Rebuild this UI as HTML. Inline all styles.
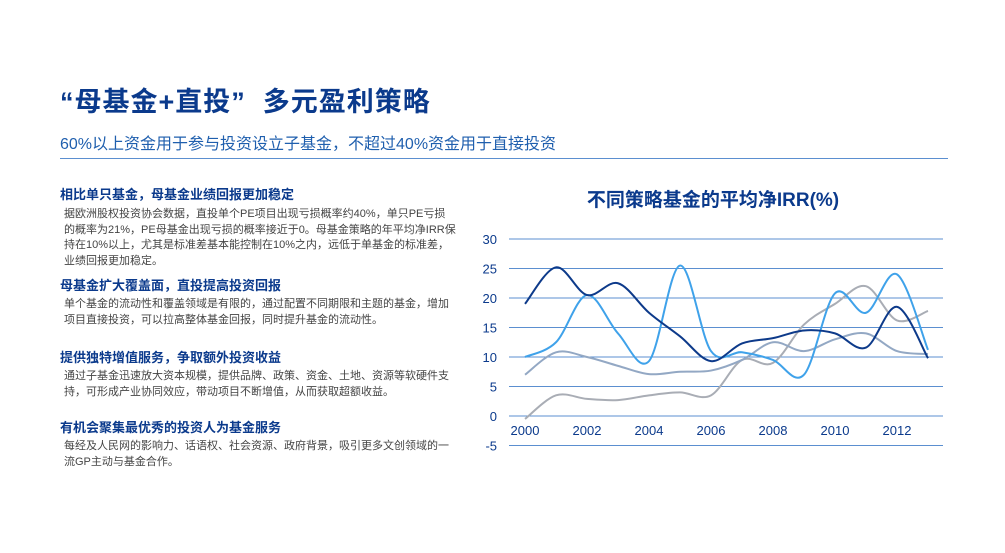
<!DOCTYPE html>
<html><head><meta charset="utf-8"><style>
body{margin:0;width:1005px;height:553px;background:#fff;font-family:"Liberation Sans","Noto Sans CJK SC",sans-serif;position:relative;overflow:hidden}
.a{position:absolute}
h1{position:absolute;left:60px;top:80px;margin:0;font-size:27px;color:#0b3a8c;font-weight:bold;letter-spacing:1px}
.sub{left:60px;top:130px;font-size:16px;color:#1f5fae}
.rule{left:60px;top:158px;width:888px;height:1px;background:#5b8fd0}
.h{left:60px;font-size:13px;font-weight:bold;color:#0b3a8c}
.p{left:64px;width:392px;font-size:11px;line-height:15.5px;color:#444}
</style></head><body>
<h1>“母基金+直投” &nbsp;多元盈利策略</h1>
<div class="a sub">60%以上资金用于参与投资设立子基金，不超过40%资金用于直接投资</div>
<div class="a rule"></div>
<div class="a h" style="top:184px">相比单只基金，母基金业绩回报更加稳定</div>
<div class="a p" style="top:207px">据欧洲股权投资协会数据，直投单个PE项目出现亏损概率约40%，单只PE亏损的概率为21%，PE母基金出现亏损的概率接近于0。母基金策略的年平均净IRR保持在10%以上，尤其是标准差基本能控制在10%之内，远低于单基金的标准差，业绩回报更加稳定。</div>
<div class="a h" style="top:275px">母基金扩大覆盖面，直投提高投资回报</div>
<div class="a p" style="top:297px">单个基金的流动性和覆盖领域是有限的，通过配置不同期限和主题的基金，增加项目直接投资，可以拉高整体基金回报，同时提升基金的流动性。</div>
<div class="a h" style="top:347px">提供独特增值服务，争取额外投资收益</div>
<div class="a p" style="top:369px">通过子基金迅速放大资本规模，提供品牌、政策、资金、土地、资源等软硬件支持，可形成产业协同效应，带动项目不断增值，从而获取超额收益。</div>
<div class="a h" style="top:417px">有机会聚集最优秀的投资人为基金服务</div>
<div class="a p" style="top:439px">每经及人民网的影响力、话语权、社会资源、政府背景，吸引更多文创领域的一流GP主动与基金合作。</div>
<div class="a" style="left:480px;top:185px;width:466px;text-align:center;font-size:19px;font-weight:bold;color:#0b3a8c">不同策略基金的平均净IRR(%)</div>
<svg class="a" style="left:0;top:0" width="1005" height="553" id="chart"></svg>
<script>
const years=[2000,2001,2002,2003,2004,2005,2006,2007,2008,2009,2010,2011,2012,2013];
const xTicks=[2000,2002,2004,2006,2008,2010,2012];
const yTicks=[-5,0,5,10,15,20,25,30];
const seriesNavy=[19,25.2,20.5,22.5,17.5,13.5,9.3,12.3,13.2,14.5,14,11.6,18.5,9.8];
const seriesBlue=[10,12.5,20.5,14,9.3,25.5,11,10.8,9.5,7,20.8,17.5,24,11.2];
const seriesSlate=[7,10.8,10,8.5,7.1,7.5,7.7,9.5,12.5,11,13,14,11,10.5];
const seriesGray=[-0.5,3.5,2.9,2.7,3.5,4,3.5,9.5,9,15.5,19,22,16.2,17.8];
const svg=document.getElementById('chart');
const NS='http://www.w3.org/2000/svg';
const X=y=>525+(y-2000)*31, Y=v=>416-v*5.9;
function mk(t,a){const e=document.createElementNS(NS,t);for(const k in a)e.setAttribute(k,a[k]);svg.appendChild(e);return e;}
yTicks.forEach(v=>{
 const l=mk('line',{x1:509,x2:943,y1:Y(v),y2:Y(v),stroke:'#5b8fd0','stroke-width':1});
 
 
 const t=mk('text',{x:497,y:Y(v)+5,'text-anchor':'end','font-size':13,fill:'#0b3a8c'});
 t.textContent=v;
 
 
});
xTicks.forEach(v=>{
 const t=mk('text',{x:X(v),y:435,'text-anchor':'middle','font-size':13,fill:'#0b3a8c'});
 t.textContent=v;
 
 
});
function path(vals){
 const p=vals.map((v,i)=>[X(years[i]),Y(v)]);
 let d='M'+p[0][0]+','+p[0][1];
 for(let i=0;i<p.length-1;i++){
  const p0=p[i-1]||p[i],p1=p[i],p2=p[i+1],p3=p[i+2]||p2;
  const c1=[p1[0]+(p2[0]-p0[0])/6,p1[1]+(p2[1]-p0[1])/6];
  const c2=[p2[0]-(p3[0]-p1[0])/6,p2[1]-(p3[1]-p1[1])/6];
  d+='C'+c1+' '+c2+' '+p2;
 }
 return d;
}
[[seriesGray,'#a9adb5','series-gray'],[seriesSlate,'#93a8c4','series-slate'],[seriesBlue,'#3fa2ea','series-light-blue'],[seriesNavy,'#0d3a8a','series-navy']].forEach(s=>{
 const e=mk('path',{d:path(s[0]),fill:'none',stroke:s[1],'stroke-width':2});
 
 
});
</script>
</body></html>
